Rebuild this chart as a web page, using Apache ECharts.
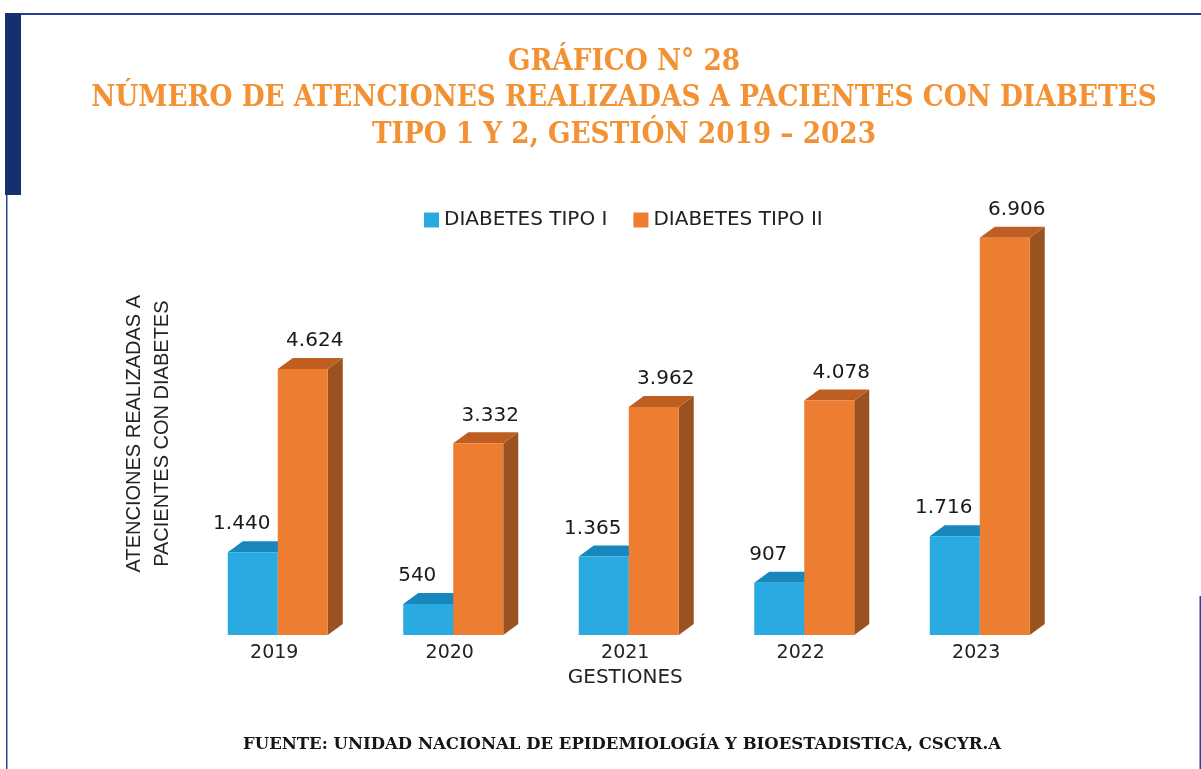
<!DOCTYPE html>
<html>
<head>
<meta charset="utf-8">
<script src="https://cdn.jsdelivr.net/npm/echarts@6/dist/echarts.min.js"></script>
<style>
  html, body { margin: 0; padding: 0; background: #ffffff; }
  #chart { width: 1201px; height: 769px; }
</style>
</head>
<body>
<div id="chart"></div>
<script>
  // datos del gráfico
  var years = ['2019', '2020', '2021', '2022', '2023'];
  var tipo1 = [1440, 540, 1365, 907, 1716];
  var tipo2 = [4624, 3332, 3962, 4078, 6906];

  var chart = echarts.init(document.getElementById('chart'));

  var DX = 15, DY = 11;          // profundidad del efecto 3D
  var BAR_W = 50;                // ancho de la cara frontal

  // 1440 -> "1.440"
  function fmt(v) {
    return String(v).replace(/\B(?=(\d{3})+(?!\d))/g, '.');
  }

  // barra 3D: side -1 = izquierda del centro, 1 = derecha
  function bar3d(side, front, top, right, labelShift) {
    return function (params, api) {
      var v = api.value(1);
      var base = api.coord([api.value(0), 0]);
      var tip = api.coord([api.value(0), v]);
      var x0 = side < 0 ? base[0] - BAR_W : base[0];
      var x1 = x0 + BAR_W;
      var ty = tip[1], by = base[1];
      return {
        type: 'group',
        children: [
          {
            type: 'polygon',
            shape: { points: [[x1, ty], [x1, by], [x1 + DX, by - DY], [x1 + DX, ty - DY]] },
            style: { fill: right }
          },
          {
            type: 'polygon',
            shape: { points: [[x0, ty], [x1, ty], [x1 + DX, ty - DY], [x0 + DX, ty - DY]] },
            style: { fill: top }
          },
          {
            type: 'rect',
            shape: { x: x0, y: ty, width: BAR_W, height: by - ty },
            style: { fill: front }
          },
          {
            type: 'text',
            x: x0 + BAR_W / 2 + labelShift,
            y: ty - DY - 17,
            style: {
              text: fmt(v),
              fill: '#1a1a1a',
              font: '20px "DejaVu Sans"',
              align: 'center',
              verticalAlign: 'middle'
            }
          }
        ]
      };
    };
  }

  var option = {
    backgroundColor: '#ffffff',
    title: [
      {
        text: 'GRÁFICO N° 28\nNÚMERO DE ATENCIONES REALIZADAS A PACIENTES CON DIABETES\nTIPO 1 Y 2, GESTIÓN 2019 – 2023',
        left: 619,
        top: 39,
        textAlign: 'center',
        textStyle: {
          color: '#F39234',
          fontFamily: '"DejaVu Serif Condensed", "DejaVu Serif"',
          fontWeight: 'bold',
          fontSize: 29.3,
          lineHeight: 36.5
        }
      },
      {
        text: 'FUENTE: UNIDAD NACIONAL DE EPIDEMIOLOGÍA Y BIOESTADISTICA, CSCYR.A',
        left: 617,
        top: 731,
        textAlign: 'center',
        textStyle: {
          color: '#151515',
          fontFamily: '"DejaVu Serif"',
          fontWeight: 'bold',
          fontSize: 16.5
        }
      }
    ],
    legend: {
      left: 419,
      top: 205,
      itemWidth: 15,
      itemHeight: 15,
      itemGap: 26,
      icon: 'rect',
      textStyle: {
        color: '#222222',
        fontFamily: 'DejaVu Sans',
        fontSize: 20
      },
      data: ['DIABETES TIPO I', 'DIABETES TIPO II']
    },
    grid: {
      left: 190,
      right: 133.5,
      top: 232.3,
      bottom: 134
    },
    xAxis: {
      type: 'category',
      data: years,
      axisLine: { show: false },
      axisTick: { show: false },
      axisLabel: {
        color: '#222222',
        fontFamily: 'DejaVu Sans',
        fontSize: 19,
        margin: 9,
        padding: [0, 7, 0, 0]
      },
      name: 'GESTIONES',
      nameLocation: 'middle',
      nameGap: 31,
      nameTextStyle: {
        color: '#222222',
        fontFamily: 'DejaVu Sans',
        fontSize: 20,
        padding: [0, 7, 0, 0]
      }
    },
    yAxis: {
      type: 'value',
      min: 0,
      max: 7000,
      axisLine: { show: false },
      axisTick: { show: false },
      axisLabel: { show: false },
      splitLine: { show: false },
      name: 'ATENCIONES REALIZADAS A\nPACIENTES CON DIABETES',
      nameLocation: 'middle',
      nameRotate: 90,
      nameGap: 14,
      nameTextStyle: {
        color: '#222222',
        fontFamily: '"Liberation Sans", Arial',
        fontSize: 20,
        lineHeight: 28
      }
    },
    series: [
      {
        name: 'DIABETES TIPO I',
        type: 'custom',
        itemStyle: { color: '#29ABE2' },
        renderItem: bar3d(-1, '#29ABE2', '#1787BE', '#1a7fb0', -11),
        data: years.map(function (y, i) { return [i, tipo1[i]]; }),
        z: 2
      },
      {
        name: 'DIABETES TIPO II',
        type: 'custom',
        itemStyle: { color: '#ED7D31' },
        renderItem: bar3d(1, '#ED7D31', '#BF5E22', '#9A5220', 12),
        data: years.map(function (y, i) { return [i, tipo2[i]]; }),
        z: 3
      }
    ],
    graphic: [
      { type: 'rect', shape: { x: 21, y: 13, width: 1180, height: 2 }, style: { fill: '#233f92' } },
      { type: 'rect', shape: { x: 5, y: 13, width: 16, height: 182 }, style: { fill: '#14306e' } },
      { type: 'rect', shape: { x: 6, y: 195, width: 1.5, height: 574 }, style: { fill: '#2a449c' } },
      { type: 'rect', shape: { x: 1199.5, y: 596, width: 1.5, height: 173 }, style: { fill: '#2a449c' } }
    ]
  };

  chart.setOption(option);
</script>
</body>
</html>
